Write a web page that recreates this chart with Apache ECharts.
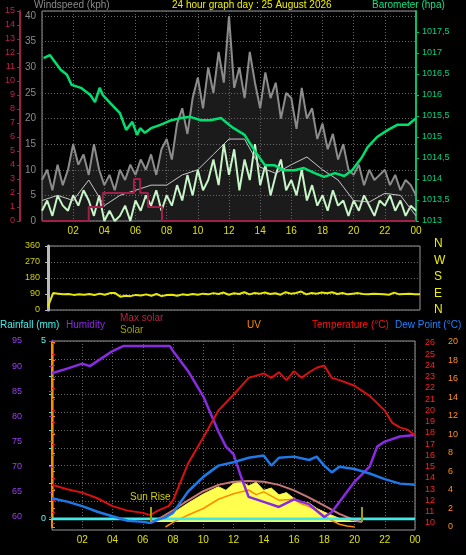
<!DOCTYPE html>
<html><head><meta charset="utf-8">
<script src="https://cdn.jsdelivr.net/npm/echarts@6/dist/echarts.min.js"></script>
<style>html,body{margin:0;background:#000}#c{width:466px;height:555px}</style>
</head><body><div id="c"></div>
<script>
// ---- data ----
const title = '24 hour graph day : 25 August 2026';
const gust20 = [8,10,6,11,7,10, 15,11,13,9,15,10, 7,9,6,10,8,11, 9,12,10,13,9,14, 16,12,19,22,17,24, 28,22,30,25,33,27, 40,26,30,24,33,27, 22,29,24,27,20,25, 24,18,26,20,22,16, 19,14,17,12,15,10, 9,11,7,10,8,9, 10,7,9,6,8,7, 5];
const wind20 = [2,4,1,5,3,2, 5,3,6,4,1,5, 0,2,0,1,3,0, 4,2,5,3,6,2, 5,3,7,4,9,5, 10,6,8,12,7,15, 9,14,6,12,8,15, 7,11,5,9,12,6, 8,5,10,4,7,3, 5,2,6,3,4,1, 4,2,5,3,1,4, 3,5,2,4,1,3, 2];
const avgHourly = [4,5,4,8,3,5,6,7,7,9,10,13,16,16,10.5,9.3,11,12.5,10,8,4,3.7,5.4,5,1];
const baro = [[0.1,1016.88],[0.5,1016.95],[1.2,1016.6],[1.6,1016.48],[1.9,1016.24],[2.5,1016.17],[3.1,1016.0],[3.4,1015.83],[3.7,1016.17],[3.9,1016.0],[4.4,1015.8],[5.0,1015.57],[5.4,1015.17],[5.8,1015.36],[6.1,1015.05],[6.3,1015.21],[6.6,1015.1],[7.0,1015.21],[7.6,1015.29],[8.3,1015.4],[8.9,1015.45],[9.5,1015.48],[10.2,1015.4],[10.8,1015.4],[11.5,1015.45],[12.0,1015.29],[12.3,1015.21],[13.0,1015.05],[13.6,1014.7],[14.3,1014.33],[14.9,1014.33],[15.5,1014.21],[16.2,1014.21],[16.8,1014.26],[17.5,1014.14],[18.1,1014.05],[18.8,1014.14],[19.4,1014.07],[19.9,1014.21],[20.5,1014.5],[20.9,1014.76],[21.5,1015.0],[22.2,1015.17],[22.8,1015.29],[23.5,1015.29],[24,1015.45]];
const rainRate = [[0,0],[3.0,0],[3.0,1],[3.9,1],[3.9,2],[5.9,2],[5.9,3],[6.3,3],[6.3,2],[6.8,2],[6.8,1],[7.7,1],[7.7,0],[24,0]];
const windDir20 = [20,95,92,88,90,85, 88,86,90,84,92,86, 95,95,75,80,78,85, 82,88,80,90,78,84, 86,80,88,84,90,86, 92,88,95,90,98,86, 94,90,100,88,96,92, 98,90,94,86,100,92, 96,104,88,96,92,98, 94,100,90,96,88,92, 95,90,88,92,90,88, 86,98,88,90,92,88, 88];
const humidity = [[0,88.6],[1,89.5],[2,90.5],[2.5,90],[3,91],[4,93],[4.7,94],[6,94],[7.8,94],[8,93],[9,89],[10,84],[11,77],[11.5,74],[12,72.5],[12.5,68],[13,64],[14,63],[15,62],[16,63.5],[17,62.5],[18,60],[18.5,61],[19,63],[20,67],[21,70],[21.5,74],[22,75],[23,76],[24,76.3]];
const temperature = [[0,13.4],[1,13],[2,12.7],[3,12.2],[4,11.5],[5,11.1],[6,10.9],[6.5,10.7],[7,11.1],[7.7,11.5],[8,12],[9,15.3],[10,17.6],[11,20],[12,21.4],[13,22.9],[14,23.3],[14.5,22.9],[15,23.4],[15.5,22.7],[16,23.5],[16.5,22.9],[17,23.4],[17.5,23.8],[18,24],[18.5,22.9],[19,22.7],[20,22.2],[21,21.3],[22,20],[22.5,18.9],[23,18.5],[23.5,18.3],[24,17.8]];
const dewPoint = [[0,12.2],[1,11.9],[2,11.5],[3,11],[4,10.6],[5,10.2],[6,10.1],[6.5,10],[7,10.3],[7.5,10.5],[8,10.9],[9,12.8],[10,14.1],[11,15.1],[12,15.4],[13,15.8],[14,16],[14.5,15.1],[15,15.8],[16,15.9],[17,15.6],[17.5,15.9],[18,15.1],[18.5,14.5],[19,15],[20,14.8],[21,14.4],[22,13.9],[23,13.5],[24,13.4]];
const uv = [[7.5,0],[8,0.5],[9,1.3],[10,2],[11,3],[12,3.6],[13,4],[13.5,3.5],[14,3.8],[15,2.9],[16,3],[16.5,2.5],[17,2.2],[17.5,1.8],[18,1.2],[18.5,0.7],[19,0.3],[19.5,0.1],[20,0]];
const maxSolar = [[6.5,0],[7,60],[8,260],[9,480],[10,680],[11,820],[12,890],[13,905],[14,890],[15,820],[16,700],[17,540],[18,360],[19,180],[20,40],[20.5,0]];
const solar = [[6.5,0],[7,20],[8,200],[9,420],[10,620],[11,780],[11.5,700],[12,850],[12.5,900],[13,800],[13.5,880],[14,700],[14.5,750],[15,600],[15.5,650],[16,520],[16.5,450],[17,420],[17.5,300],[18,220],[18.5,150],[19,80],[19.5,40],[20,10],[20.5,0]];
const rainfall = [[0,0],[24,0]];
const dirLabels = ['N','W','S','E','N'];
const sunRise = 6.5, sunSet = 20.5;

// ---- build ----
const every = (arr, step) => arr.map((v,i)=>[i*step, v]);
const hh = v => { const h = Math.round(v)%24; return (h<10?'0':'')+h; };
const dot = {lineStyle:{color:'#666',type:[1,2]}};
const FONT = 'Liberation Sans';

function xa(grid, opts){
  return Object.assign({type:'value',gridIndex:grid,min:0,max:24,interval:2,
    axisLine:{show:false},axisTick:{show:false},axisLabel:{show:false},splitLine:{show:false}}, opts||{});
}
const xLabel = {show:true,color:'#e0e000',fontSize:10,fontFamily:FONT,formatter:hh,showMinLabel:false,margin:5};

const grids = [
  {left:42,right:50,top:11,bottom:334,show:true,borderColor:'#999',borderWidth:1},
  {left:48,right:46,top:246,bottom:245,show:true,borderColor:'#999',borderWidth:1},
  {left:52,right:51,top:341,bottom:25,show:true,borderColor:'#999',borderWidth:1},
  {left:52,right:51,top:341,bottom:36},
  {left:52,right:51,top:341,bottom:38},
  {left:52,right:51,top:343,bottom:32},
  {left:52,right:51,top:342,bottom:28},
  {left:52,right:51,top:341,bottom:33}
];
const xAxes = [
  xa(0,{axisLabel:xLabel,splitLine:Object.assign({show:true},dot)}),
  xa(1,{}),
  xa(2,{axisLabel:xLabel,splitLine:Object.assign({show:true},dot)}),
  xa(3),xa(4),xa(5),xa(6),xa(7)
];
const lab = (c,extra)=>Object.assign({color:c,fontSize:9,fontFamily:FONT},extra||{});
const yAxes = [
  {type:'value',gridIndex:0,min:0,max:41,interval:5,position:'left',axisLine:{show:false},axisTick:{show:false},
    axisLabel:lab('#8a8a8a',{fontSize:10,showMaxLabel:false,margin:6}),splitLine:Object.assign({show:true},dot)},
  {type:'value',gridIndex:0,min:0,max:15,interval:1,position:'left',offset:22,axisLine:{show:true,lineStyle:{color:'#a0204a',width:2}},
    axisTick:{show:true,length:3,lineStyle:{color:'#a0204a'}},axisLabel:lab('#c02050',{margin:5}),splitLine:{show:false}},
  {type:'value',gridIndex:0,min:1013,max:1018,interval:0.5,position:'right',axisLine:{show:true,lineStyle:{color:'#00c070',width:2}},
    axisTick:{show:true,length:3,lineStyle:{color:'#00c070'}},axisLabel:lab('#00d080',{showMaxLabel:false,margin:6,formatter:v=>String(v).replace('.',',')}),splitLine:{show:false}},
  {type:'value',gridIndex:1,min:0,max:360,interval:90,position:'left',axisLine:{show:true,lineStyle:{color:'#bbb',width:3}},
    axisTick:{show:true,length:3,lineStyle:{color:'#bbb'}},axisLabel:lab('#d0d000',{margin:8}),splitLine:Object.assign({show:true},dot)},
  {type:'value',gridIndex:2,min:0,max:1,axisLine:{show:false},axisTick:{show:false},axisLabel:{show:false},splitLine:{show:false}},
  {type:'value',gridIndex:3,min:0,max:5,interval:0.5,position:'left',axisLine:{show:false},axisTick:{show:true,length:3,lineStyle:{color:'#40e0e0'}},
    axisLabel:lab('#60f0f0',{formatter:v=>(v===0||v===5)?String(v):'',margin:6}),splitLine:Object.assign({show:true},dot)},
  {type:'value',gridIndex:4,min:60,max:95,interval:5,position:'left',offset:22,axisLine:{show:true,lineStyle:{color:'#8a2be2',width:3}},
    axisTick:{show:true,length:3,lineStyle:{color:'#8a2be2'}},axisLabel:lab('#9a40f0',{margin:8}),splitLine:{show:false}},
  {type:'value',gridIndex:5,min:10,max:26,interval:1,position:'right',offset:5,axisLine:{show:true,lineStyle:{color:'#e02020'}},
    axisTick:{show:true,length:3,lineStyle:{color:'#e02020'}},axisLabel:lab('#ff2020',{margin:5}),splitLine:{show:false}},
  {type:'value',gridIndex:6,min:0,max:20,interval:2,position:'right',offset:28,axisLine:{show:true,lineStyle:{color:'#ff8c00',width:2}},
    axisTick:{show:true,length:3,lineStyle:{color:'#ff8c00'}},axisLabel:lab('#ff9020',{margin:5}),splitLine:{show:false}},
  {type:'value',gridIndex:7,min:0,max:4000,show:false,splitLine:{show:false}}
];
const line = (name,x,y,data,color,w,extra)=>Object.assign({name,type:'line',xAxisIndex:x,yAxisIndex:y,data,symbol:'none',
  silent:true,lineStyle:{color,width:w||1},animation:false},extra||{});

const series = [
  line('gust',0,0,every(gust20,1/3),'#8c8c8c',2,{areaStyle:{color:'rgba(110,110,110,0.35)'}}),
  line('wind',0,0,every(wind20,1/3),'#c8f5c8',2),
  line('avg',0,0,every(avgHourly,1),'#c8c8c8',1),
  line('rainrate',0,1,rainRate,'#a0204a',2),
  line('baro',0,2,baro,'#00e070',2.5),
  line('dir',1,3,every(windDir20,1/3),'#e8e800',2),
  line('solar',7,9,solar,'#f0f040',1,{areaStyle:{color:'#ffff50',opacity:1},
    markLine:{symbol:'none',silent:true,animation:false,lineStyle:{color:'#a0a000',width:2,type:'solid'},
      label:{show:false,color:'#d0d000',fontSize:10,fontFamily:FONT},
      data:[[{coord:[sunRise,0]},{coord:[sunRise,330],label:{show:true,position:'end',formatter:'Sun Rise'}}],[{coord:[sunSet,0]},{coord:[sunSet,330]}]]}}),
  line('maxsolar',7,9,maxSolar,'#c87878',2),
  line('uv',6,8,uv,'#ff8c00',1.5),
  line('rainfall',3,5,rainfall,'#40e8e8',3),
  line('humidity',4,6,humidity,'#8a2be2',2.5),
  line('temp',5,7,temperature,'#d81010',2),
  line('dew',5,7,dewPoint,'#1e78e6',2.5)
];

const T = (text,left,top,color,size)=>({type:'text',left,top,silent:true,style:{text,fill:color,fontSize:size||10,fontFamily:FONT}});
const graphic = [
  T('Windspeed (kph)',34,0,'#8a8a8a'),
  T(title,172,0,'#f0f000'),
  T('Barometer (hpa)',372,0,'#10e080'),
  T('Rainfall (mm)',0,320,'#40f0f0'),
  T('Humidity',66,320,'#8a2be2'),
  T('Max solar',120,313,'#c02040'),
  T('Solar',120,325,'#a0a000'),
  T('UV',247,320,'#ff8c00'),
  T('Temperature (°C)',312,320,'#ff1010'),
  T('Dew Point (°C)',395,320,'#2080ff')
];
dirLabels.forEach((s,i)=>graphic.push(T(s,434,238+i*16.5,'#f0f000',12)));

const chart = echarts.init(document.getElementById('c'),null,{renderer:'canvas'});
chart.setOption({backgroundColor:'#000',animation:false,grid:grids,xAxis:xAxes,yAxis:yAxes,series,graphic});
</script></body></html>
